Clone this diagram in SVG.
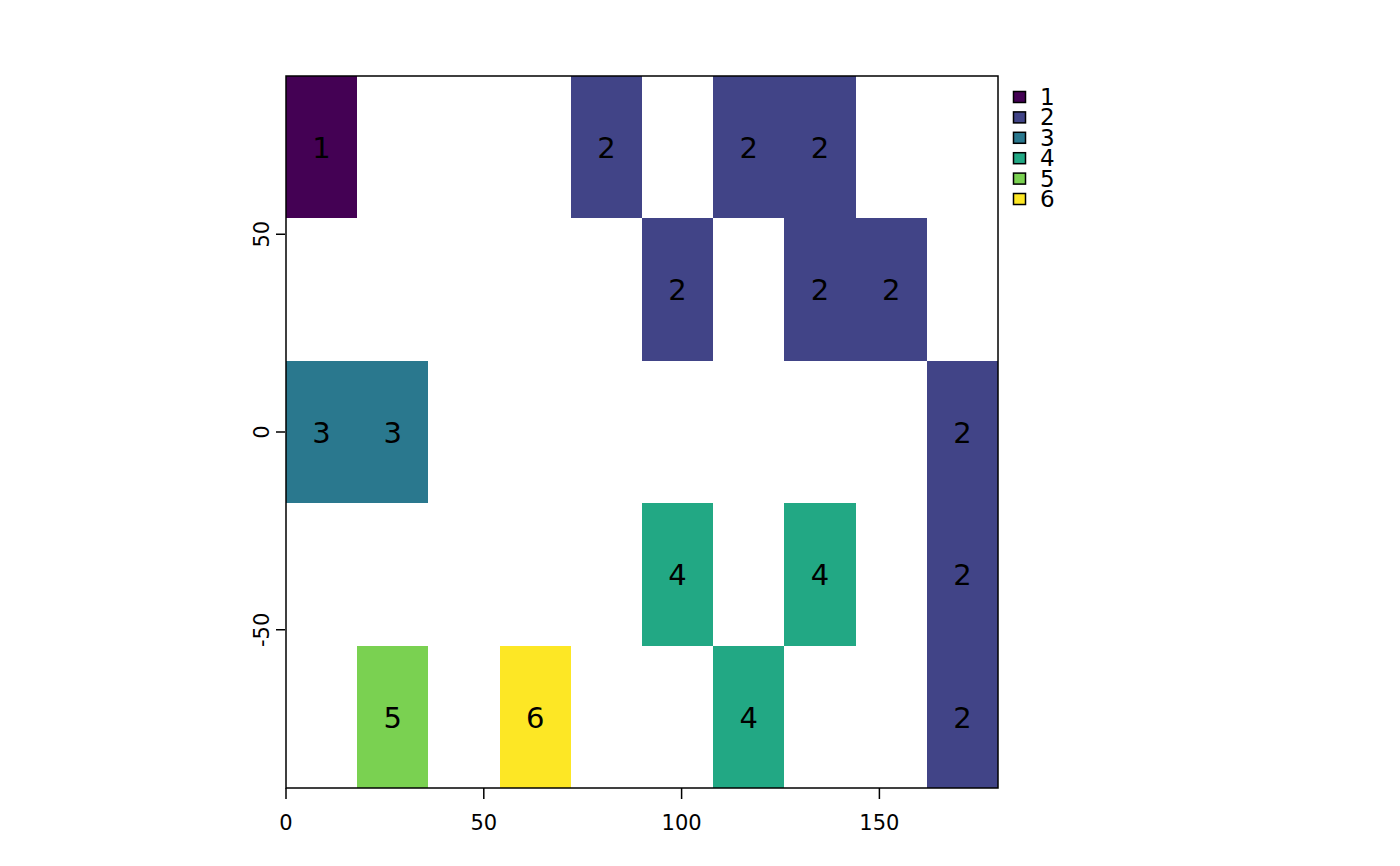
<svg xmlns="http://www.w3.org/2000/svg" width="1400" height="866" viewBox="0 0 1400 866">
<style>
text{font-family:"DejaVu Sans","Liberation Sans",sans-serif;fill:#000}
.lab{font-size:29px;text-anchor:middle}
.tick{font-size:21px;text-anchor:middle}
.leg{font-size:23px}
#cells rect{shape-rendering:crispEdges}
.c1{fill:#440154}.c2{fill:#414487}.c3{fill:#2A788E}.c4{fill:#22A884}.c5{fill:#7AD151}.c6{fill:#FDE725}
.ax{stroke:#000;stroke-width:1.5;fill:none}
.sw{stroke:#000;stroke-width:1.5}
</style>
<rect width="1400" height="866" fill="#fff"/>
<g id="cells">
<g id="r1c0"><rect class="c1" x="286" y="76" width="71.2" height="142.4"/><text class="lab" x="321.6" y="158">1</text></g>
<g id="r1c4"><rect class="c2" x="570.8" y="76" width="71.2" height="142.4"/><text class="lab" x="606.4" y="158">2</text></g>
<g id="r1c6"><rect class="c2" x="713.2" y="76" width="71.2" height="142.4"/><text class="lab" x="748.8" y="158">2</text></g>
<g id="r1c7"><rect class="c2" x="784.4" y="76" width="71.2" height="142.4"/><text class="lab" x="820" y="158">2</text></g>
<g id="r2c5"><rect class="c2" x="642" y="218.4" width="71.2" height="142.4"/><text class="lab" x="677.6" y="300.4">2</text></g>
<g id="r2c7"><rect class="c2" x="784.4" y="218.4" width="71.2" height="142.4"/><text class="lab" x="820" y="300.4">2</text></g>
<g id="r2c8"><rect class="c2" x="855.6" y="218.4" width="71.2" height="142.4"/><text class="lab" x="891.2" y="300.4">2</text></g>
<g id="r3c0"><rect class="c3" x="286" y="360.8" width="71.2" height="142.4"/><text class="lab" x="321.6" y="442.8">3</text></g>
<g id="r3c1"><rect class="c3" x="357.2" y="360.8" width="71.2" height="142.4"/><text class="lab" x="392.8" y="442.8">3</text></g>
<g id="r3c9"><rect class="c2" x="926.8" y="360.8" width="71.2" height="142.4"/><text class="lab" x="962.4" y="442.8">2</text></g>
<g id="r4c5"><rect class="c4" x="642" y="503.2" width="71.2" height="142.4"/><text class="lab" x="677.6" y="585.2">4</text></g>
<g id="r4c7"><rect class="c4" x="784.4" y="503.2" width="71.2" height="142.4"/><text class="lab" x="820" y="585.2">4</text></g>
<g id="r4c9"><rect class="c2" x="926.8" y="503.2" width="71.2" height="142.4"/><text class="lab" x="962.4" y="585.2">2</text></g>
<g id="r5c1"><rect class="c5" x="357.2" y="645.6" width="71.2" height="142.4"/><text class="lab" x="392.8" y="727.6">5</text></g>
<g id="r5c3"><rect class="c6" x="499.6" y="645.6" width="71.2" height="142.4"/><text class="lab" x="535.2" y="727.6">6</text></g>
<g id="r5c6"><rect class="c4" x="713.2" y="645.6" width="71.2" height="142.4"/><text class="lab" x="748.8" y="727.6">4</text></g>
<g id="r5c9"><rect class="c2" x="926.8" y="645.6" width="71.2" height="142.4"/><text class="lab" x="962.4" y="727.6">2</text></g>
</g>
<g id="connectors"></g>
<g id="axes">
<rect class="ax" x="286" y="76" width="712" height="712"/>
<path class="ax" d="M286 788V799M483.8 788V799M681.6 788V799M879.4 788V799M276 234.2H285M276 432H285M276 629.8H285"/>
<text class="tick" x="286" y="830">0</text>
<text class="tick" x="483.8" y="830">50</text>
<text class="tick" x="681.6" y="830">100</text>
<text class="tick" x="879.4" y="830">150</text>
<text class="tick" transform="translate(269 234.2) rotate(-90)">50</text>
<text class="tick" transform="translate(269 432) rotate(-90)">0</text>
<text class="tick" transform="translate(269 629.8) rotate(-90)">-50</text>
</g>
<g id="legend">
<g id="leg1"><rect class="c1 sw" x="1013.5" y="91.5" width="12" height="11"/><text class="leg" x="1040" y="105">1</text></g>
<g id="leg2"><rect class="c2 sw" x="1013.5" y="111.9" width="12" height="11"/><text class="leg" x="1040" y="125.4">2</text></g>
<g id="leg3"><rect class="c3 sw" x="1013.5" y="132.3" width="12" height="11"/><text class="leg" x="1040" y="145.8">3</text></g>
<g id="leg4"><rect class="c4 sw" x="1013.5" y="152.7" width="12" height="11"/><text class="leg" x="1040" y="166.2">4</text></g>
<g id="leg5"><rect class="c5 sw" x="1013.5" y="173.1" width="12" height="11"/><text class="leg" x="1040" y="186.6">5</text></g>
<g id="leg6"><rect class="c6 sw" x="1013.5" y="193.5" width="12" height="11"/><text class="leg" x="1040" y="207">6</text></g>
</g>
</svg>
